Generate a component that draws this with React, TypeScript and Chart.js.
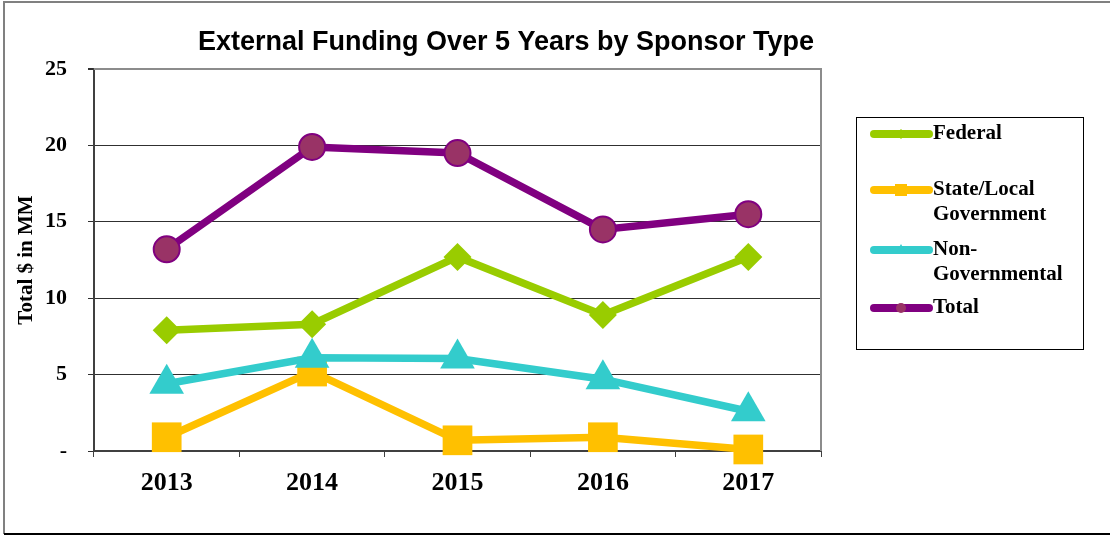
import React, { useEffect, useRef } from "react";
import { Chart, registerables } from "chart.js";

Chart.register(...registerables);

const categories = ["2013", "2014", "2015", "2016", "2017"];
const federal = [7.9, 8.3, 12.7, 8.9, 12.7];
const stateLocal = [0.9, 5.2, 0.7, 0.9, 0.1];
const nonGovernmental = [4.4, 6.1, 6.05, 4.7, 2.6];
const total = [13.2, 19.9, 19.5, 14.5, 15.5];
const yTicks = [0, 5, 10, 15, 20, 25];

const titleText = "External Funding Over 5 Years by Sponsor Type";
const yTitle = "Total $ in MM";

const SERIF = "'Liberation Serif', 'Times New Roman', serif";
const SANS = "'Liberation Sans', Arial, sans-serif";

const C_FED = "#99CC00";
const C_STATE = "#FFC000";
const C_NON = "#33CCCC";
const C_TOT = "#800080";
const C_TOT_FILL = "#993366";

const legendItems = [
  { lines: ["Federal"], color: C_FED, marker: "diamond" },
  { lines: ["State/Local", "Government"], color: C_STATE, marker: "square" },
  { lines: ["Non-", "Governmental"], color: C_NON, marker: "triangle" },
  { lines: ["Total"], color: C_TOT, marker: "circle" },
];
const legendRowY = [134, 190, 250, 308];

const decorPlugin = {
  id: "decor",
  beforeDraw(chart: any) {
    const ctx = chart.ctx;
    ctx.save();
    ctx.fillStyle = "#ffffff";
    ctx.fillRect(0, 0, chart.width, chart.height);
    ctx.restore();
  },
  beforeDatasetsDraw(chart: any) {
    const ctx = chart.ctx;
    const a = chart.chartArea;
    ctx.save();
    ctx.strokeStyle = "#8c8c8c";
    ctx.lineWidth = 2;
    ctx.beginPath();
    ctx.moveTo(a.left, a.top);
    ctx.lineTo(a.right, a.top);
    ctx.lineTo(a.right, a.bottom);
    ctx.stroke();
    ctx.restore();
  },
  afterDraw(chart: any) {
    const ctx = chart.ctx;
    ctx.save();
    // outer frame
    ctx.strokeStyle = "#808080";
    ctx.lineWidth = 2;
    ctx.beginPath();
    ctx.moveTo(4, 534);
    ctx.lineTo(4, 2);
    ctx.lineTo(1110, 2);
    ctx.stroke();
    ctx.strokeStyle = "#000000";
    ctx.beginPath();
    ctx.moveTo(4, 534);
    ctx.lineTo(1110, 534);
    ctx.stroke();

    // title
    ctx.fillStyle = "#000000";
    ctx.font = `bold 27px ${SANS}`;
    ctx.textAlign = "center";
    ctx.textBaseline = "middle";
    ctx.fillText(titleText, 506, 43);

    // legend box
    ctx.strokeStyle = "#000000";
    ctx.lineWidth = 1;
    ctx.strokeRect(856.5, 117.5, 227, 232);

    legendItems.forEach((it, i) => {
      const y = legendRowY[i];
      ctx.strokeStyle = it.color;
      ctx.lineWidth = 8;
      ctx.lineCap = "round";
      ctx.beginPath();
      ctx.moveTo(874, y);
      ctx.lineTo(929, y);
      ctx.stroke();
      const cx = 901;
      ctx.fillStyle = it.color;
      ctx.beginPath();
      if (it.marker === "diamond") {
        ctx.moveTo(cx, y - 5);
        ctx.lineTo(cx + 5, y);
        ctx.lineTo(cx, y + 5);
        ctx.lineTo(cx - 5, y);
        ctx.closePath();
        ctx.fill();
      } else if (it.marker === "square") {
        ctx.rect(cx - 6, y - 6, 12, 12);
        ctx.fill();
      } else if (it.marker === "triangle") {
        ctx.moveTo(cx, y - 6);
        ctx.lineTo(cx + 5, y + 3);
        ctx.lineTo(cx - 5, y + 3);
        ctx.closePath();
        ctx.fill();
      } else {
        ctx.arc(cx, y, 5, 0, Math.PI * 2);
        ctx.fillStyle = C_TOT_FILL;
        ctx.fill();
      }
      ctx.fillStyle = "#000000";
      ctx.font = `bold 21px ${SERIF}`;
      ctx.textAlign = "left";
      ctx.textBaseline = "middle";
      it.lines.forEach((ln, j) => {
        ctx.fillText(ln, 933, y + j * 25);
      });
    });
    ctx.restore();
  },
};

export default function App() {
  const ref = useRef<HTMLCanvasElement>(null);
  useEffect(() => {
    document.body.style.margin = "0";
    const canvas = ref.current!;
    const chart = new Chart(canvas, {
      type: "line",
      data: {
        labels: categories,
        datasets: [
          {
            label: "Federal",
            data: federal,
            borderColor: C_FED,
            backgroundColor: C_FED,
            borderWidth: 7.5,
            pointStyle: "rectRot",
            pointRadius: 14,
            pointBorderWidth: 0,
            pointBackgroundColor: C_FED,
            order: 3,
            clip: false,
          },
          {
            label: "State/Local Government",
            data: stateLocal,
            borderColor: C_STATE,
            backgroundColor: C_STATE,
            borderWidth: 7.5,
            pointStyle: "rect",
            pointRadius: 21,
            pointBorderWidth: 0,
            pointBackgroundColor: C_STATE,
            order: 2,
            clip: false,
          },
          {
            label: "Non-Governmental",
            data: nonGovernmental,
            borderColor: C_NON,
            backgroundColor: C_NON,
            borderWidth: 7.5,
            pointStyle: "triangle",
            pointRadius: 20,
            pointBorderWidth: 0,
            pointBackgroundColor: C_NON,
            order: 1,
            clip: false,
          },
          {
            label: "Total",
            data: total,
            borderColor: C_TOT,
            backgroundColor: C_TOT_FILL,
            borderWidth: 7.5,
            pointStyle: "circle",
            pointRadius: 13,
            pointBorderWidth: 2,
            pointBorderColor: C_TOT,
            pointBackgroundColor: C_TOT_FILL,
            order: 0,
            clip: false,
          },
        ],
      },
      options: {
        responsive: false,
        animation: false,
        devicePixelRatio: 1,
        layout: { padding: { left: 0, top: 69, right: 289, bottom: 0 } },
        plugins: {
          legend: { display: false },
          title: { display: false },
          tooltip: { enabled: false },
        },
        scales: {
          x: {
            type: "category",
            offset: true,
            afterFit: (s: any) => {
              s.height = 84;
            },
            grid: {
              offset: true,
              drawOnChartArea: false,
              drawTicks: true,
              tickLength: 6,
              color: "#404040",
              tickColor: "#404040",
            },
            border: { display: true, color: "#404040", width: 2 },
            ticks: {
              color: "#000000",
              font: { family: SERIF, size: 26, weight: "bold" },
              padding: 11,
              maxRotation: 0,
            },
          },
          y: {
            min: 0,
            max: 25,
            afterFit: (s: any) => {
              s.width = 94;
            },
            afterBuildTicks: (s: any) => {
              s.ticks = yTicks.map((v) => ({ value: v }));
            },
            grid: {
              drawTicks: true,
              tickLength: 6,
              color: (c: any) => (c.tick && c.tick.value === 25 ? "#8c8c8c" : "#303030"),
              lineWidth: (c: any) => (c.tick && c.tick.value === 25 ? 2 : 1),
              tickColor: "#303030",
            },
            border: { display: true, color: "#404040", width: 2 },
            title: {
              display: true,
              text: yTitle,
              color: "#000000",
              font: { family: SERIF, size: 21, weight: "bold" },
              padding: { top: 14, bottom: 0 },
            },
            ticks: {
              color: "#000000",
              font: { family: SERIF, size: 22, weight: "bold" },
              padding: 21,
              callback: (v: any) => (Number(v) === 0 ? "-" : String(v)),
            },
          },
        },
      },
      plugins: [decorPlugin],
    } as any);
    return () => chart.destroy();
  }, []);
  return (
    <div style={{ width: 1110, height: 535, position: "relative" }}>
      <canvas ref={ref} width={1110} height={535} style={{ display: "block" }} />
    </div>
  );
}
